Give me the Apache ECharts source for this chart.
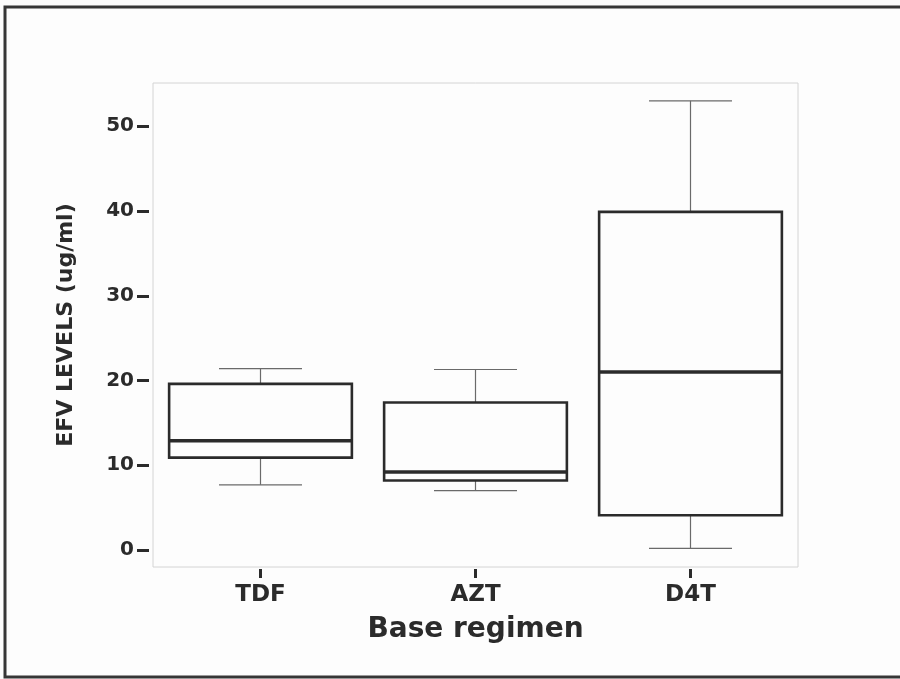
<!DOCTYPE html>
<html><head><meta charset="utf-8">
<script src="https://cdn.jsdelivr.net/npm/echarts@6/dist/echarts.min.js"></script>
<style>html,body{margin:0;padding:0;background:#fdfdfd}#c{width:900px;height:679px}</style>
</head><body><div id="c"></div>
<script>
const categories = ['TDF', 'AZT', 'D4T'];
const whiskerLow = [7.7, 7.0, 0.2];
const q1 = [10.9, 8.2, 4.1];
const median = [12.9, 9.2, 21.0];
const q3 = [19.6, 17.4, 39.9];
const whiskerHigh = [21.4, 21.3, 53.0];
const yTicks = [0, 10, 20, 30, 40, 50];

const chart = echarts.init(document.getElementById('c'));
const boxData = categories.map((c, i) => [i, whiskerLow[i], q1[i], median[i], q3[i], whiskerHigh[i]]);

const BOX = '#2b2b2b', WH = '#6a6a6a';
function renderItem(params, api) {
  const x = api.value(0);
  const pLow = api.coord([x, api.value(1)]);
  const pQ1 = api.coord([x, api.value(2)]);
  const pMed = api.coord([x, api.value(3)]);
  const pQ3 = api.coord([x, api.value(4)]);
  const pHigh = api.coord([x, api.value(5)]);
  const band = api.size([1, 0])[0];
  const bw = band * 0.85, cw = band * 0.386;
  const cx = pMed[0];
  const thin = { stroke: WH, lineWidth: 1.2 };
  return {
    type: 'group',
    children: [
      { type: 'line', shape: { x1: cx, y1: pQ3[1], x2: cx, y2: pHigh[1] }, style: thin },
      { type: 'line', shape: { x1: cx - cw / 2, y1: pHigh[1], x2: cx + cw / 2, y2: pHigh[1] }, style: thin },
      { type: 'line', shape: { x1: cx, y1: pQ1[1], x2: cx, y2: pLow[1] }, style: thin },
      { type: 'line', shape: { x1: cx - cw / 2, y1: pLow[1], x2: cx + cw / 2, y2: pLow[1] }, style: thin },
      { type: 'rect', shape: { x: cx - bw / 2, y: pQ3[1], width: bw, height: pQ1[1] - pQ3[1] },
        style: { fill: 'rgba(0,0,0,0)', stroke: BOX, lineWidth: 2.6 } },
      { type: 'line', shape: { x1: cx - bw / 2, y1: pMed[1], x2: cx + bw / 2, y2: pMed[1] },
        style: { stroke: BOX, lineWidth: 3.6 } }
    ]
  };
}

chart.setOption({
  backgroundColor: '#fdfdfd',
  animation: false,
  graphic: [{
    type: 'rect', silent: true, z: -1,
    shape: { x: 5, y: 7, width: 910, height: 670 },
    style: { fill: 'rgba(0,0,0,0)', stroke: '#363636', lineWidth: 3 }
  }],
  grid: {
    left: 153, right: 102, top: 83, bottom: 112,
    show: true, borderColor: '#d4d4d4', borderWidth: 1, backgroundColor: 'rgba(0,0,0,0)'
  },
  xAxis: {
    type: 'category', data: categories, offset: 2,
    axisLine: { show: false, onZero: false },
    axisTick: { show: true, alignWithLabel: true, length: 9, lineStyle: { color: BOX, width: 3 } },
    axisLabel: { fontFamily: 'DejaVu Sans', fontWeight: 'bold', fontSize: 23, color: '#2b2b2b', margin: 15 },
    name: 'Base regimen', nameLocation: 'middle', nameGap: 47,
    nameTextStyle: { fontFamily: 'DejaVu Sans', fontWeight: 'bold', fontSize: 28, color: '#2b2b2b' },
    splitLine: { show: false }
  },
  yAxis: {
    type: 'value', min: -2, max: 55.1, offset: 4,
    axisLine: { show: false },
    axisTick: { show: true, customValues: yTicks, length: 12, lineStyle: { color: BOX, width: 3 } },
    axisLabel: { customValues: yTicks, fontFamily: 'DejaVu Sans', fontWeight: 'bold', fontSize: 20, color: '#2b2b2b', margin: 15 },
    splitLine: { show: false },
    name: 'EFV LEVELS (ug/ml)', nameLocation: 'middle', nameRotate: 90, nameGap: 72,
    nameTextStyle: { fontFamily: 'DejaVu Sans', fontWeight: 'bold', fontSize: 22, color: '#2b2b2b' }
  },
  series: [{
    type: 'custom',
    renderItem: renderItem,
    encode: { x: 0, y: [1, 2, 3, 4, 5] },
    data: boxData
  }]
});
</script></body></html>
